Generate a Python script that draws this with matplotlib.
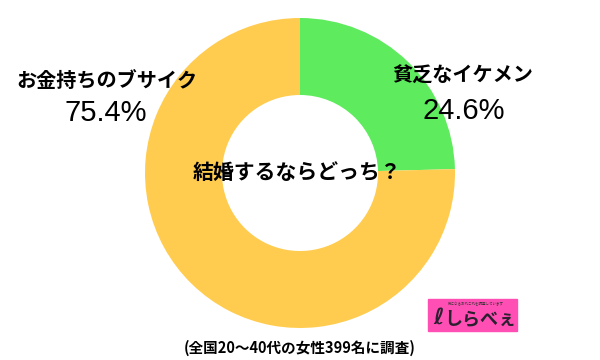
import matplotlib.pyplot as plt
from matplotlib.patches import Rectangle

plt.rcParams['font.family'] = ['Noto Sans CJK JP', 'DejaVu Sans']

labels = ["貧乏なイケメン", "お金持ちのブサイク"]
shares = [24.6, 75.4]
colors = ["#5EEB5E", "#FFCC4F"]
question = "結婚するならどっち？"
note = "(全国20～40代の女性399名に調査)"

fig = plt.figure(figsize=(6, 3.6), dpi=100)
ax = fig.add_axes([0, 0, 1, 1])

ax.pie(shares, colors=colors, startangle=90, counterclock=False,
       center=(300, 187), radius=155, frame=True,
       wedgeprops=dict(width=77, linewidth=0))
ax.set_xlim(0, 600)
ax.set_ylim(0, 360)
ax.set_aspect("equal")
ax.axis("off")

# slice labels
ax.text(463, 285, labels[0], ha="center", va="center", fontsize=14.5, fontweight="bold")
ax.text(464, 249, f"{shares[0]}%", ha="center", va="center", fontsize=21,
        family="Liberation Sans")
ax.text(107, 279, labels[1], ha="center", va="center", fontsize=14.5, fontweight="bold")
ax.text(106, 247, f"{shares[1]}%", ha="center", va="center", fontsize=21,
        family="Liberation Sans")

ax.text(297, 188, question, ha="center", va="center", fontsize=15, fontweight="bold")
ax.text(300, 12, note, ha="center", va="center", fontsize=10.5, fontweight="bold")

# logo
ax.add_patch(Rectangle((428, 29), 89, 32, color="#FF4FB4", zorder=3))
ax.text(476, 56, "気になるあれこれを調査しています", ha="center", va="center",
        fontsize=2.5, color="#333333", zorder=4)
ax.text(480, 41, "しらべぇ", ha="center", va="center", fontsize=13,
        fontweight="bold", color="#2a2030", zorder=4)
ax.text(439, 42, "ℓ", ha="center", va="center", fontsize=16,
        fontweight="bold", color="#2a2030", zorder=4, family="DejaVu Sans")

fig.savefig("out.png", dpi=100)
